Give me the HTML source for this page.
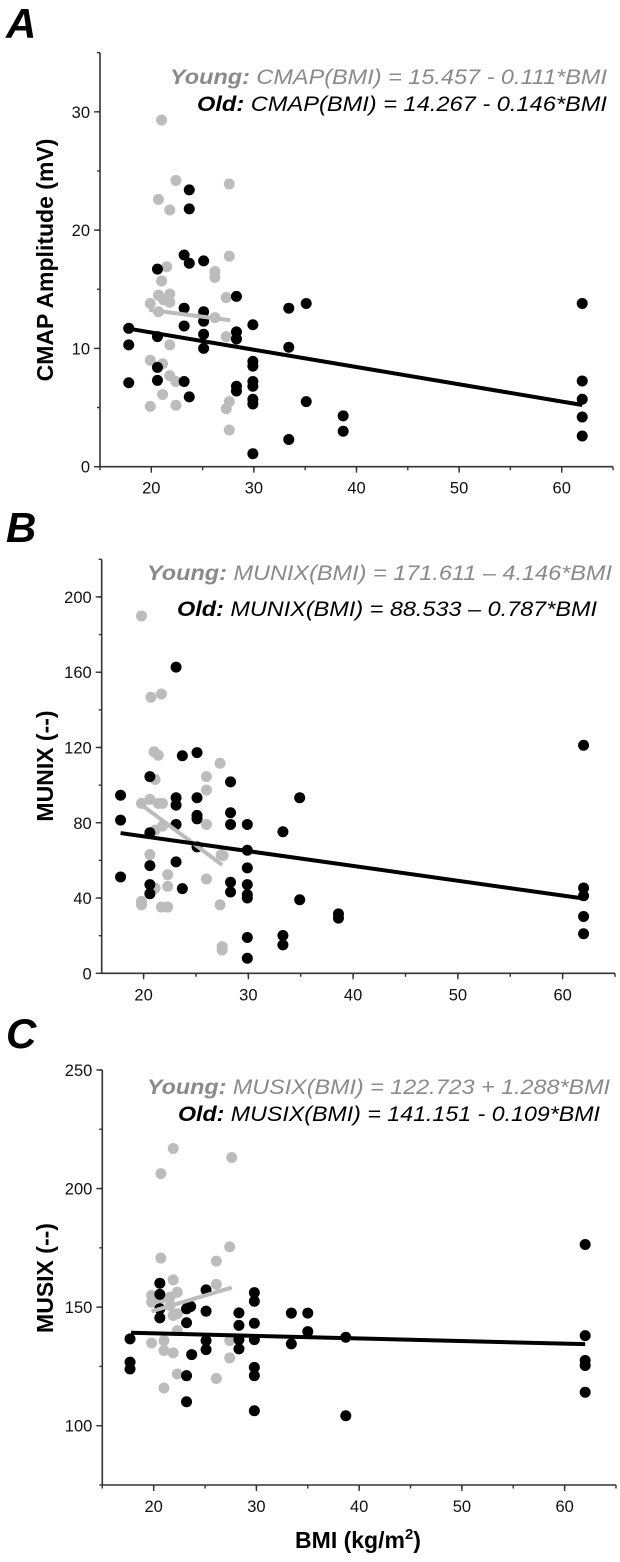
<!DOCTYPE html>
<html><head><meta charset="utf-8">
<style>
html,body{margin:0;padding:0;background:#fff;}
svg{display:block;font-family:"Liberation Sans",Arial,sans-serif;}
</style></head>
<body>
<svg id="fig" width="620" height="1562" viewBox="0 0 620 1562" xmlns="http://www.w3.org/2000/svg">
<text x="6" y="38" font-size="42" font-weight="bold" font-style="italic">A</text>
<text x="6" y="542" font-size="42" font-weight="bold" font-style="italic">B</text>
<text x="6" y="1048" font-size="42" font-weight="bold" font-style="italic">C</text>
<text transform="translate(53,260) rotate(-90)" text-anchor="middle" font-size="23" font-weight="bold">CMAP Amplitude (mV)</text>
<text transform="translate(53,766) rotate(-90)" text-anchor="middle" font-size="23" font-weight="bold">MUNIX (--)</text>
<text transform="translate(53,1278) rotate(-90)" text-anchor="middle" font-size="23" font-weight="bold">MUSIX (--)</text>
<text x="358" y="1548" text-anchor="middle" font-size="23" font-weight="bold">BMI (kg/m<tspan font-size="15" dy="-9">2</tspan><tspan dy="9">)</tspan></text>
</svg>
<script>
// Panel A: CMAP
const aYoungX = [21,22.4,20.7,21.8,27.6,27.6,21.5,21,26.2,26.2,20.7,21.8,21.2,21.8,19.9,20.7,27.3,26.2,27.3,21.8,19.9,21.1,21.8,22.4,21.1,19.9,22.4,27.3,27.6,27.6];
const aYoungY = [29.3,24.2,22.6,21.7,23.9,17.8,16.9,15.7,16.5,16.0,14.5,14.6,14.1,13.9,13.8,13.1,14.3,12.6,11,10.3,9.0,8.7,7.7,7.2,6.1,5.1,5.2,4.9,5.5,3.1];
const aOldX = [23.7,23.7,23.2,23.7,25.1,20.6,28.3,33.4,35.1,23.2,25.1,25.1,23.2,17.8,17.8,20.6,29.9,28.3,28.3,25.1,25.1,33.4,29.9,29.9,20.6,20.6,17.8,23.2,23.7,28.3,28.3,29.9,29.9,29.9,29.9,35.1,38.7,38.7,33.4,29.9,62,62,62,62,62];
const aOldY = [23.4,21.8,17.9,17.2,17.4,16.7,14.4,13.4,13.8,13.4,13.1,12.3,11.9,11.7,10.3,11.0,12.0,11.4,10.8,11.2,10.0,10.1,8.9,8.5,8.4,7.3,7.1,7.2,5.9,6.8,6.4,7.2,6.8,5.7,5.3,5.5,4.3,3.0,2.3,1.1,13.8,7.25,5.7,4.2,2.6];
const aFit = {young:[15.457,-0.111,19.8,27.7], old:[14.267,-0.146,17.8,62]};
const aYTicks = [0,10,20,30];
const aXTicks = [20,30,40,50,60];

// Panel B: MUNIX
const bYoungX = [19.8,20.7,21.7,21,21.4,27.3,26,26,21.1,19.8,20.6,21.4,21.8,21.8,21.1,26,20.6,27.4,27.6,22.3,26,21.1,22.3,19.8,19.8,21.7,22.3,27.3,27.5,27.5];
const bYoungY = [189.9,146.7,148.4,117.7,115.9,111.6,104.5,97.4,103,90.3,92.4,90.3,90.3,78.2,76.1,79.1,63.1,63,62.6,52.4,50.1,45.3,46.2,38.2,36.4,35.2,35.2,36.4,14.2,12.4];
const bOldX = [23.1,23.7,25.1,20.6,28.3,17.8,17.8,34.9,23.1,23.1,25.1,25.1,25.1,28.3,28.3,23.1,29.9,20.6,33.3,25.1,29.9,23.1,20.6,29.9,17.8,23.7,20.6,20.6,28.3,28.3,29.9,29.9,29.9,34.9,38.6,38.6,33.3,33.3,29.9,29.9,62,62,62,62,62];
const bOldY = [162.7,115.6,117.3,104.5,101.7,94.6,81.4,93.3,93.3,89.4,93.3,83.9,82.1,85.3,79.1,79.1,79.1,74.7,75.2,67.2,65.4,59.2,57.2,56,51.2,45,47.1,42.3,48.4,43.2,47.1,41.8,40,39.1,31.6,29.3,20.1,15.1,19,8,121.2,45.3,41.2,30.2,21];
const bFit = {young:[171.611,-4.146,19.8,27.5], old:[88.533,-0.787,17.8,62]};
const bYTicks = [0,40,80,120,160,200];
const bXTicks = [20,30,40,50,60];

// Panel C: MUSIX
const cYoungX = [21.9,20.7,27.6,27.4,20.7,26.1,21.9,26.1,19.8,19.8,20.7,21.6,22.3,21.6,21.9,22.3,22.3,19.8,21,21,21.9,27.4,27.4,22.3,26.1,21];
const cYoungY = [216.9,206.3,213.1,175.4,170.7,169.4,161.5,159.6,154.9,152.1,153.5,154.2,156.3,150.7,146.5,147.2,140.1,134.9,135.9,131.7,130.7,135.9,128.6,121.8,119.9,115.9];
const cOldX = [20.6,20.6,25.1,29.8,29.8,23.2,23.6,25.1,20.6,20.6,28.3,33.4,35,23.2,29.8,28.3,35,17.7,25.1,25.1,28.3,28.3,29.8,33.4,38.7,23.7,17.7,17.7,29.8,29.8,23.2,23.2,29.8,38.7,62,62,62,62,62];
const cOldY = [160.1,155.4,157.3,156.1,152.5,149.3,150.3,148.3,149.3,145.5,147.6,147.5,147.5,143.4,143.2,142.3,139.7,136.6,135.9,132.1,136.3,132.4,136.3,134.5,137.3,130,126.8,123.9,124.6,121.1,121.1,110.1,106.3,104.2,176.4,138,127.5,125.4,114.1];
const cFit = {young:[122.723,1.288,19.8,27.6], old:[141.151,-0.109,17.8,62]};
const cYTicks = [100,150,200,250];
const cXTicks = [20,30,40,50,60];

const NS = "http://www.w3.org/2000/svg";
const svg = document.getElementById('fig');
function mk(tag, attrs, parent){
  const e = document.createElementNS(NS, tag);
  for (const k in attrs) e.setAttribute(k, attrs[k]);
  (parent||svg).appendChild(e);
  return e;
}
const GREY = '#bcbcbc';

function panel(p){
  const g = mk('g', {});
  
  
  const sx = v => p.L + (v - p.x0) / (p.x1 - p.x0) * (p.R - p.L);
  const sy = v => p.B - (v - p.y0) / (p.y1 - p.y0) * (p.B - p.T);
  const ax = mk('path', {d:`M${p.L},${p.T}V${p.B}H${p.R}`, fill:'none', stroke:'#333', 'stroke-width':1.6}, g);
  
  
  for (let v = p.y0; v <= p.y1 + 1e-9; v += p.yMinor) {
    mk('line', {x1:p.L-3, x2:p.L, y1:sy(v), y2:sy(v), stroke:'#333', 'stroke-width':1.4}, g);
  }
  p.yTicks.forEach(v => {
    mk('line', {x1:p.L-6, x2:p.L, y1:sy(v), y2:sy(v), stroke:'#333', 'stroke-width':1.4}, g);
    const t = mk('text', {x:p.L-10, y:sy(v)+6, 'text-anchor':'end', 'font-size':16.5, fill:'#111'}, g);
    
    
    t.textContent = v;
  });
  for (let v = Math.ceil(p.x0/5)*5; v <= p.x1 + 1e-9; v += 5) {
    mk('line', {x1:sx(v), x2:sx(v), y1:p.B, y2:p.B+3.5, stroke:'#333', 'stroke-width':1.4}, g);
  }
  p.xTicks.forEach(v => {
    mk('line', {x1:sx(v), x2:sx(v), y1:p.B, y2:p.B+6, stroke:'#333', 'stroke-width':1.4}, g);
    const t = mk('text', {x:sx(v), y:p.B+27, 'text-anchor':'middle', 'font-size':16.5, fill:'#111'}, g);
    
    
    t.textContent = v;
  });
  p.yx.forEach((x, i) => {
    const c = mk('circle', {cx:sx(x), cy:sy(p.yy[i]), r:5.5, fill:GREY}, g);
    
    
  });
  p.ox.forEach((x, i) => {
    const c = mk('circle', {cx:sx(x), cy:sy(p.oy[i]), r:5.5, fill:'#000'}, g);
    
    
  });
  const fy = p.fit.young, fo = p.fit.old;
  const ly = mk('line', {x1:sx(fy[2]), y1:sy(fy[0]+fy[1]*fy[2]), x2:sx(fy[3]), y2:sy(fy[0]+fy[1]*fy[3]), stroke:GREY, 'stroke-width':4}, g);
  
  
  const lo = mk('line', {x1:sx(fo[2]), y1:sy(fo[0]+fo[1]*fo[2]), x2:sx(fo[3]), y2:sy(fo[0]+fo[1]*fo[3]), stroke:'#000', 'stroke-width':4}, g);
  
  
  const e1 = mk('text', {x:p.eqY[0], y:p.eqY[1], 'font-size':21.5, 'font-style':'italic', fill:'#8a8a8a', textLength:p.eqY[2], lengthAdjust:'spacingAndGlyphs'}, g);
  
  
  e1.innerHTML = '<tspan font-weight="bold">Young:</tspan> ' + p.eqYText;
  const e2 = mk('text', {x:p.eqO[0], y:p.eqO[1], 'font-size':21.5, 'font-style':'italic', fill:'#000', textLength:p.eqO[2], lengthAdjust:'spacingAndGlyphs'}, g);
  
  
  e2.innerHTML = '<tspan font-weight="bold">Old:</tspan> ' + p.eqOText;
}

panel({id:'a', L:100, R:613, T:52.7, B:466.7, x0:15, x1:65, y0:0, y1:35, yMinor:5,
  yTicks:aYTicks, xTicks:aXTicks, yx:aYoungX, yy:aYoungY, ox:aOldX, oy:aOldY, fit:aFit,
  eqY:[170,84,437], eqYText:'CMAP(BMI) = 15.457 - 0.111*BMI',
  eqO:[197,111,410], eqOText:'CMAP(BMI) = 14.267 - 0.146*BMI'});
panel({id:'b', L:101.7, R:615, T:559.3, B:973.3, x0:16, x1:65, y0:0, y1:220, yMinor:20,
  yTicks:bYTicks, xTicks:bXTicks, yx:bYoungX, yy:bYoungY, ox:bOldX, oy:bOldY, fit:bFit,
  eqY:[147,580,465], eqYText:'MUNIX(BMI) = 171.611 \u2013 4.146*BMI',
  eqO:[177,616,420], eqOText:'MUNIX(BMI) = 88.533 \u2013 0.787*BMI'});
panel({id:'c', L:102.3, R:616, T:1070, B:1485, x0:15, x1:65, y0:75, y1:250, yMinor:25,
  yTicks:cYTicks, xTicks:cXTicks, yx:cYoungX, yy:cYoungY, ox:cOldX, oy:cOldY, fit:cFit,
  eqY:[147,1094,463], eqYText:'MUSIX(BMI) = 122.723 + 1.288*BMI',
  eqO:[178,1121,422], eqOText:'MUSIX(BMI) = 141.151 - 0.109*BMI'});
</script>
</body></html>
